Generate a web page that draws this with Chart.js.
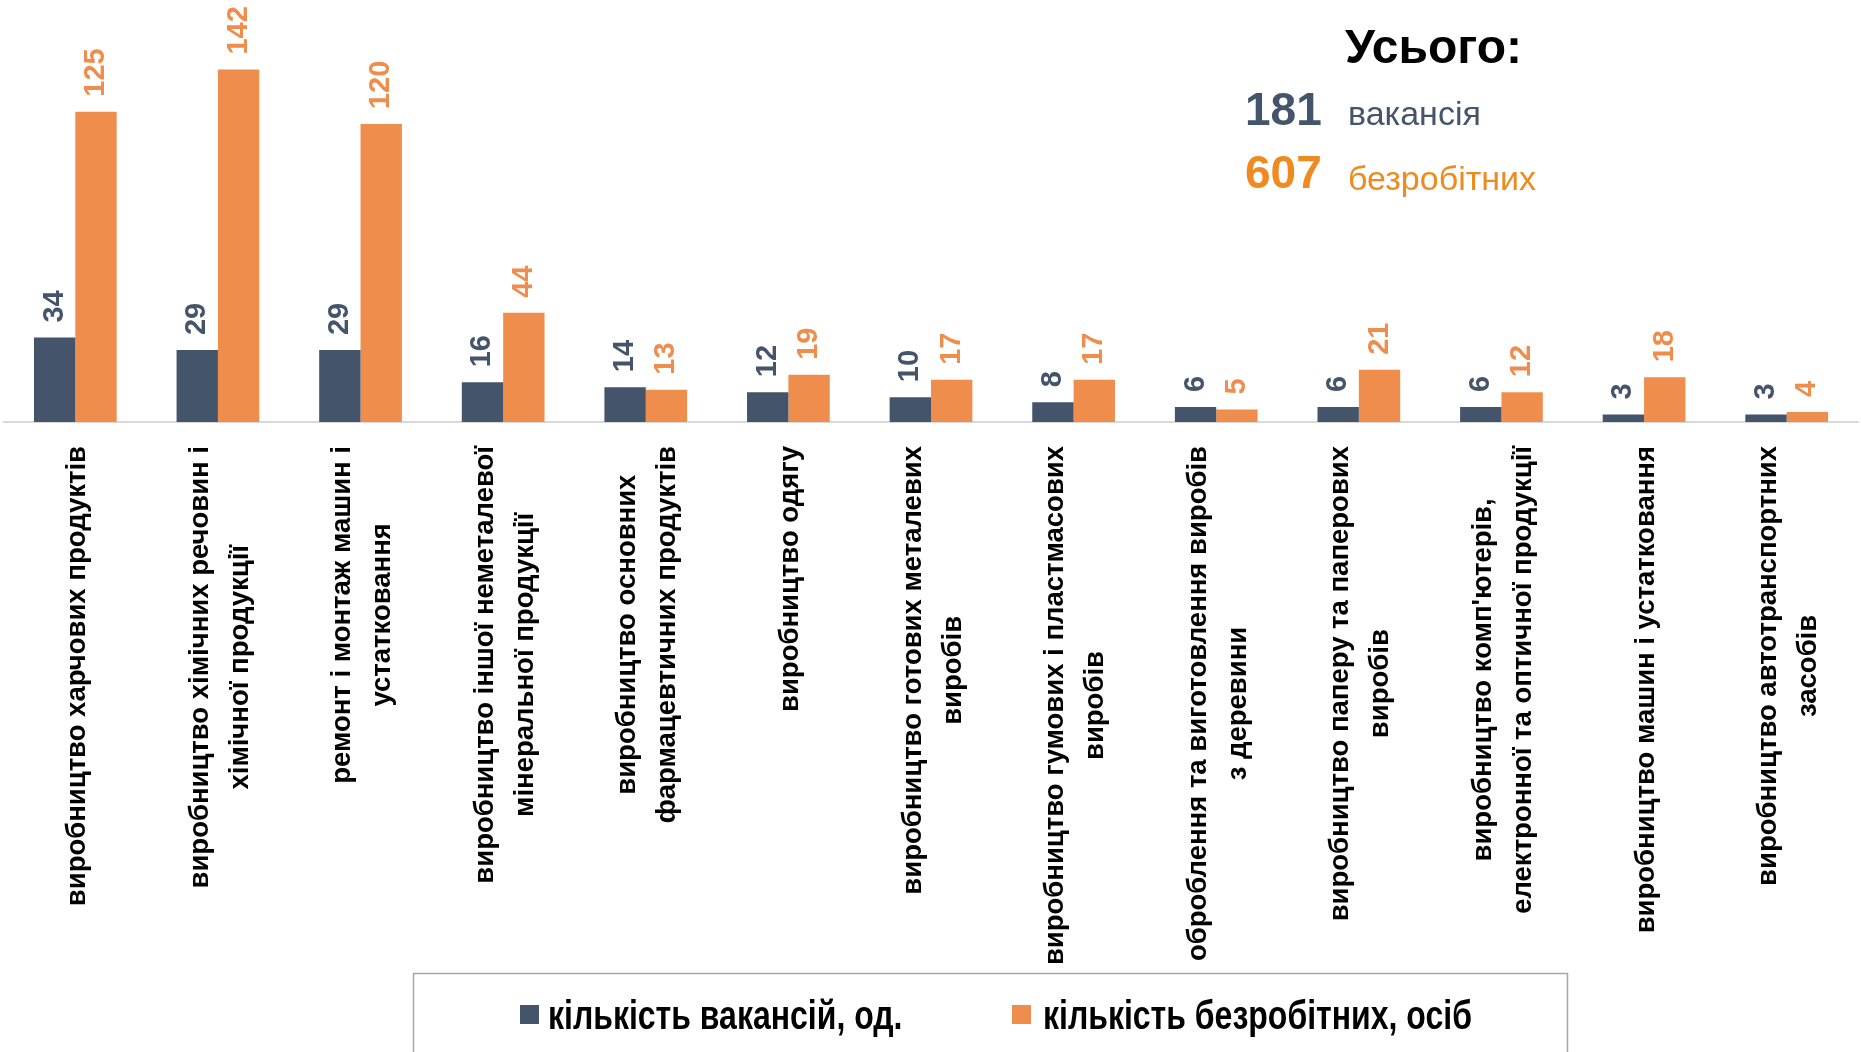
<!DOCTYPE html>
<html lang="uk">
<head>
    <meta charset="UTF-8">
    <title>Вакансії та безробітні за видами діяльності</title>
    <script src="https://cdn.jsdelivr.net/npm/chart.js"></script>
    <style>
        html, body { margin: 0; padding: 0; background: #ffffff; }
        #wrap { position: relative; width: 1861px; height: 1052px; }
    </style>
</head>
<body>
    <div id="wrap">
        <canvas id="chart"></canvas>
    </div>

    <script>
        // дані з діаграми
        const categories = [
            ['виробництво харчових продуктів'],
            ['виробництво хімічних речовин і', 'хімічної продукції'],
            ['ремонт і монтаж машин і', 'устатковання'],
            ['виробництво іншої неметалевої', 'мінеральної продукції'],
            ['виробництво основних', 'фармацевтичних продуктів'],
            ['виробництво одягу'],
            ['виробництво готових металевих', 'виробів'],
            ['виробництво гумових і пластмасових', 'виробів'],
            ['оброблення та виготовлення виробів', 'з деревини'],
            ['виробництво паперу та паперових', 'виробів'],
            ["виробництво комп'ютерів,", 'електронної та оптичної продукції'],
            ['виробництво машин і устатковання'],
            ['виробництво автотранспортних', 'засобів']
        ];
        const vacancies = [34, 29, 29, 16, 14, 12, 10, 8, 6, 6, 6, 3, 3];
        const unemployed = [125, 142, 120, 44, 13, 19, 17, 17, 5, 21, 12, 18, 4];
        const seriesNames = ['кількість вакансій, од.', 'кількість безробітних, осіб'];
        const totalTitle = 'Усього:';
        const totalValues = ['181', '607'];
        const totalNames = ['вакансія', 'безробітних'];

        const DARK = '#44546A';
        const ORANGE = '#EF8D4C';
        const ORANGE_TEXT = '#EE8A1F';

        // підписи значень над стовпчиками (повернуті)
        const valueLabels = {
            id: 'valueLabels',
            afterDatasetsDraw(chart) {
                const ctx = chart.ctx;
                ctx.save();
                ctx.font = 'bold 29px "Liberation Sans", Arial, sans-serif';
                ctx.textAlign = 'left';
                ctx.textBaseline = 'middle';
                chart.data.datasets.forEach((ds, di) => {
                    const meta = chart.getDatasetMeta(di);
                    ctx.fillStyle = ds.backgroundColor;
                    meta.data.forEach((bar, i) => {
                        ctx.save();
                        ctx.translate(bar.x, bar.y - 15);
                        ctx.rotate(-Math.PI / 2);
                        ctx.fillText(String(ds.data[i]), 0, 0);
                        ctx.restore();
                    });
                });
                ctx.restore();
            }
        };

        // підписи категорій: повернуті, рядки вирівняні по центру
        const categoryLabels = {
            id: 'categoryLabels',
            afterDraw(chart) {
                const ctx = chart.ctx;
                const xScale = chart.scales.x;
                const top = chart.chartArea.bottom + 24;
                const lineH = 40;
                ctx.save();
                ctx.font = 'bold 27.5px "Liberation Sans", Arial, sans-serif';
                ctx.fillStyle = '#000000';
                ctx.textAlign = 'center';
                ctx.textBaseline = 'middle';
                categories.forEach((lines, i) => {
                    const cx = xScale.getPixelForValue(i);
                    const maxW = Math.max(...lines.map(l => ctx.measureText(l).width));
                    ctx.save();
                    ctx.translate(cx, top + maxW / 2);
                    ctx.rotate(-Math.PI / 2);
                    lines.forEach((line, j) => {
                        const off = (j - (lines.length - 1) / 2) * lineH;
                        ctx.fillText(line, 0, off + 2);
                    });
                    ctx.restore();
                });
                ctx.restore();
            }
        };

        // блок "Усього" та легенда в рамці
        const extras = {
            id: 'extras',
            afterDraw(chart) {
                const ctx = chart.ctx;
                ctx.save();
                ctx.textBaseline = 'alphabetic';
                ctx.textAlign = 'left';

                ctx.fillStyle = '#000000';
                ctx.font = 'bold 48px "Liberation Sans", Arial, sans-serif';
                ctx.fillText(totalTitle, 1345, 63);

                ctx.font = 'bold 46px "Liberation Sans", Arial, sans-serif';
                ctx.fillStyle = DARK;
                ctx.fillText(totalValues[0], 1245, 125);
                ctx.fillStyle = ORANGE_TEXT;
                ctx.fillText(totalValues[1], 1245, 188);

                ctx.font = '34px "Liberation Sans", Arial, sans-serif';
                ctx.fillStyle = DARK;
                ctx.fillText(totalNames[0], 1348, 125);
                ctx.fillStyle = ORANGE_TEXT;
                ctx.fillText(totalNames[1], 1348, 190);

                // рамка легенди
                ctx.strokeStyle = '#A6A6A6';
                ctx.lineWidth = 1.5;
                ctx.strokeRect(413.5, 973.5, 1154, 120);

                const colors = chart.data.datasets.map(d => d.backgroundColor);
                const items = [
                    { box: 520, text: 548 },
                    { box: 1012, text: 1043 }
                ];
                ctx.font = 'bold 40px "Liberation Sans", Arial, sans-serif';
                items.forEach((it, k) => {
                    ctx.fillStyle = colors[k];
                    ctx.fillRect(it.box, 1005, 19, 19);
                    ctx.save();
                    ctx.translate(it.text, 1029);
                    ctx.scale(0.8, 1);
                    ctx.fillStyle = '#000000';
                    ctx.fillText(seriesNames[k], 0, 0);
                    ctx.restore();
                });
                ctx.restore();
            }
        };

        new Chart(document.getElementById('chart'), {
            type: 'bar',
            data: {
                labels: categories,
                datasets: [
                    {
                        label: seriesNames[0],
                        data: vacancies,
                        backgroundColor: DARK,
                        categoryPercentage: 0.58,
                        barPercentage: 1.0
                    },
                    {
                        label: seriesNames[1],
                        data: unemployed,
                        backgroundColor: ORANGE,
                        categoryPercentage: 0.58,
                        barPercentage: 1.0
                    }
                ]
            },
            options: {
                responsive: true,
                maintainAspectRatio: false,
                animation: false,
                layout: {
                    padding: { left: 4, right: 3, top: 0, bottom: 622 }
                },
                plugins: {
                    legend: { display: false },
                    tooltip: { enabled: false }
                },
                scales: {
                    x: {
                        grid: { display: false },
                        ticks: { display: false },
                        border: { display: true, color: '#D9D9D9', width: 2 }
                    },
                    y: {
                        display: false,
                        min: 0,
                        max: 170
                    }
                }
            },
            plugins: [valueLabels, categoryLabels, extras]
        });
    </script>
</body>
</html>
